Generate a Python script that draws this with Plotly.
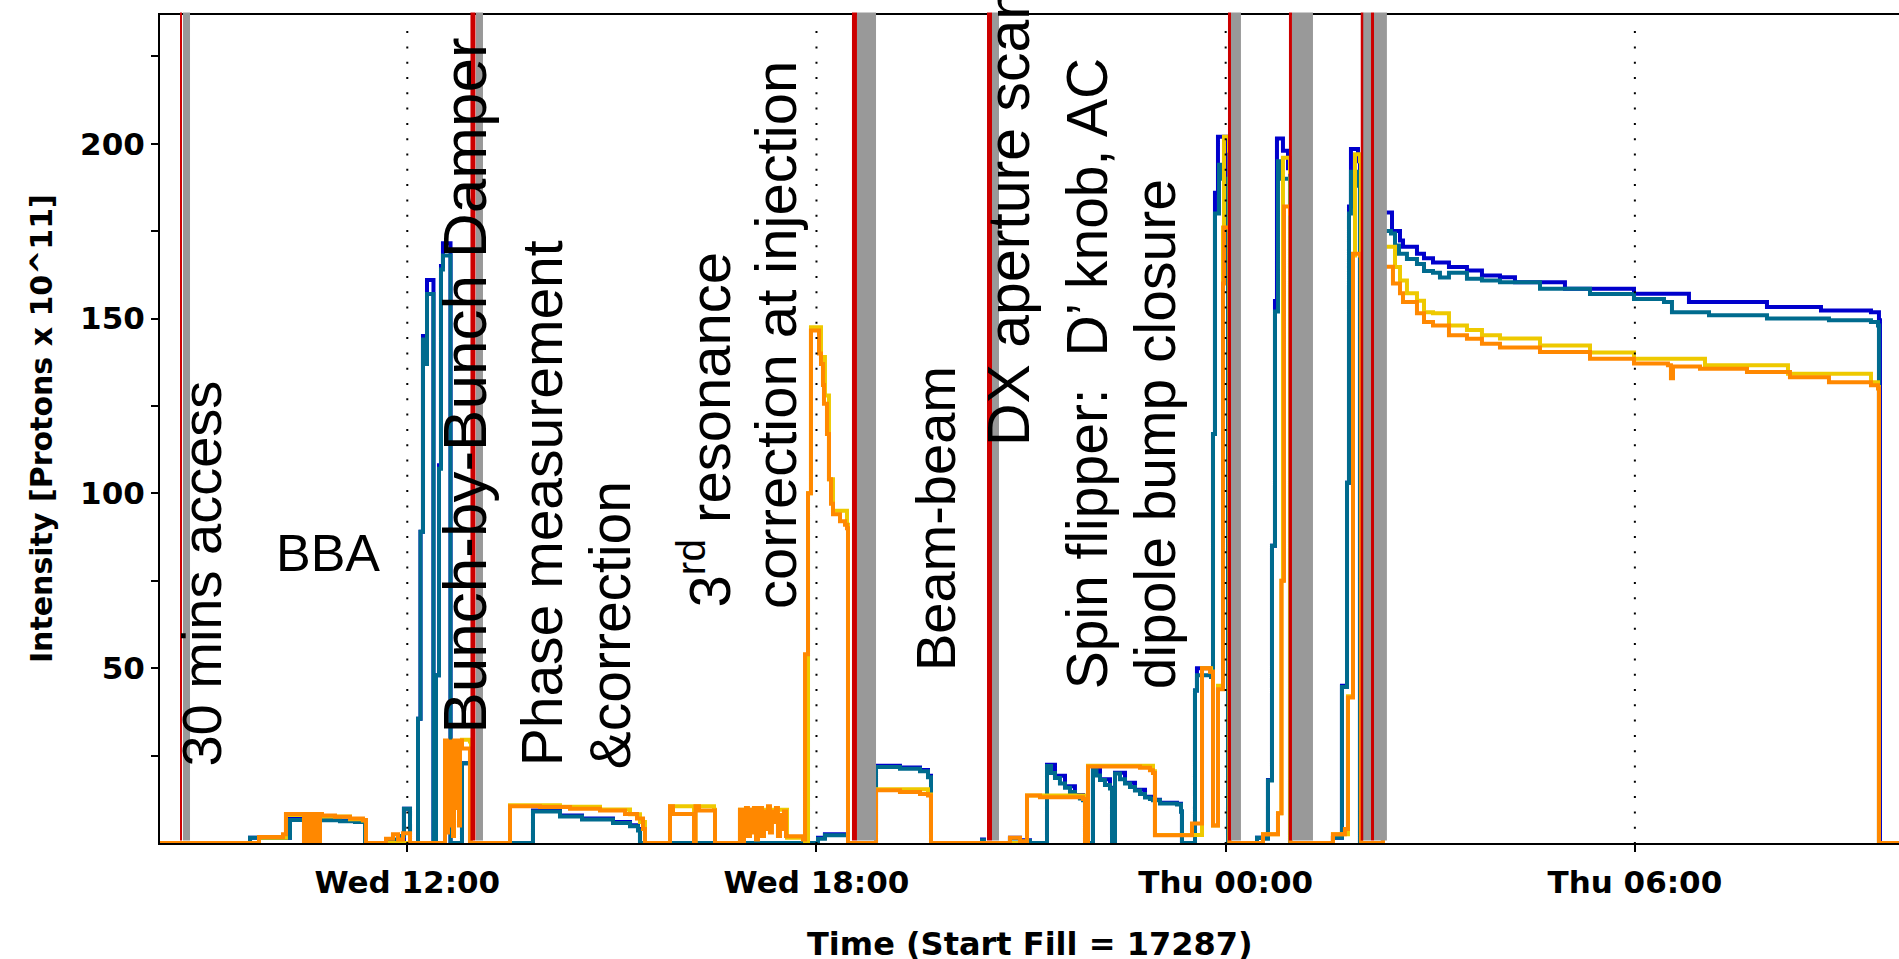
import plotly.graph_objects as go

# ---------------- data (time = hours since Wed 00:00) ----------------
tick_hours = [12, 18, 24, 30]
tick_labels = ["Wed 12:00", "Wed 18:00", "Thu 00:00", "Thu 06:00"]
y_tick_vals = [25, 50, 75, 100, 125, 150, 175, 200, 225]
y_tick_text = ["", "50", "", "100", "", "150", "", "200", ""]
x_range = [8.374, 33.873]
y_range = [0, 236.8]

blue_t = [8.374, 9.694, 10.280, 10.749, 11.013, 11.233, 11.380, 11.951, 12.040, 12.157, 12.194, 12.230,
          12.289, 12.377, 12.384, 12.421, 12.465, 12.494, 12.523, 12.626, 12.634, 12.802, 12.919, 12.934,
          13.843, 14.239, 14.562, 15.016, 15.266, 15.383, 15.412, 18.022, 18.124, 18.418, 18.462, 18.873,
          19.224, 19.518, 19.635, 19.679, 20.427, 20.456, 20.837, 20.984, 21.131, 21.380, 21.497, 21.644,
          21.790, 21.908, 21.981, 22.054, 22.157, 22.304, 22.333, 22.377, 22.524, 22.670, 22.817, 22.934,
          23.037, 23.286, 23.345, 23.359, 23.550, 23.579, 23.785, 23.814, 23.843, 23.887, 24.005, 24.034,
          24.459, 24.576, 24.620, 24.679, 24.723, 24.752, 24.840, 24.914, 24.943, 25.573, 25.705, 25.779,
          25.808, 25.837, 25.940, 25.969, 26.306, 26.439, 26.556, 26.600, 26.805, 26.908, 27.040, 27.274,
          27.538, 27.758, 28.022, 28.242, 28.975, 29.987, 30.793, 31.937, 32.729, 33.462, 33.579, 33.594,
          33.873]
blue_v = [0, 1.5, 7.0, 6.8, 6.4, 6.2, 0, 9.8, 0, 35.5, 89, 145,
          161, 161, 0, 48, 108, 165, 171.5, 171.5, 0, 22.8, 22.8, 0,
          9.3, 7.9, 7.0, 6.0, 5.1, 4.0, 0, 1.5, 2.5, 2.5, 0, 22.1,
          21.6, 20.9, 19.2, 0, 1.0, 0, 1.5, 0.8, 0, 22.4, 19.2, 16.2,
          13.7, 12.4, 0, 21.0, 18.2, 15.8, 0, 20.1, 17.2, 15.2, 13.2, 12.4,
          11.5, 11.2, 9.0, 0, 43.6, 50, 48, 117, 186, 202, 200, 0,
          1.5, 1.5, 18, 85, 155, 201.5, 198, 193, 0, 1.5, 45, 103,
          182, 198.5, 195, 0, 180.3, 175, 172.3, 170.5, 168.5, 167.2, 166, 164.7,
          163.7, 162.3, 161.8, 160.4, 158.5, 157.1, 154.7, 153.3, 152.3, 151.8, 149.5, 0,
          0]

teal_t = [8.374, 9.694, 10.280, 10.749, 11.013, 11.233, 11.380, 11.702, 11.893, 11.951, 12.040, 12.157,
          12.194, 12.230, 12.259, 12.289, 12.377, 12.384, 12.421, 12.465, 12.494, 12.523, 12.626, 12.634,
          12.802, 12.919, 12.934, 13.843, 14.239, 14.562, 15.016, 15.266, 15.383, 15.412, 18.022, 18.124,
          18.418, 18.462, 18.873, 19.224, 19.518, 19.635, 19.679, 20.427, 20.456, 20.837, 20.984, 21.131,
          21.380, 21.439, 21.497, 21.570, 21.644, 21.717, 21.790, 21.863, 21.908, 21.952, 22.054, 22.106,
          22.157, 22.230, 22.304, 22.333, 22.377, 22.450, 22.524, 22.597, 22.670, 22.744, 22.817, 22.890,
          22.934, 23.037, 23.286, 23.345, 23.359, 23.550, 23.579, 23.785, 23.814, 23.843, 23.902, 23.946,
          24.019, 24.034, 24.459, 24.576, 24.620, 24.679, 24.723, 24.767, 24.826, 24.914, 24.943, 25.573,
          25.705, 25.779, 25.808, 25.837, 25.940, 25.969, 26.306, 26.424, 26.483, 26.541, 26.658, 26.805,
          26.908, 27.040, 27.142, 27.274, 27.538, 27.758, 28.022, 28.609, 29.342, 29.987, 30.427, 30.544,
          31.087, 31.937, 32.846, 33.462, 33.565, 33.579, 33.873]
teal_v = [0, 1.5, 6.6, 6.5, 6.2, 6.0, 0, 1.0, 2.0, 9.8, 0, 35.5,
          89, 144, 137, 157, 157, 0, 48, 107, 164, 168, 168, 0,
          22.8, 22.8, 0, 9.0, 7.6, 6.7, 5.7, 4.8, 3.6, 0, 1.2, 2.2,
          2.2, 0, 21.7, 21.2, 20.5, 18.8, 0, 0.8, 0, 1.3, 0.6, 0,
          22.0, 20.0, 18.6, 17.0, 15.8, 14.6, 13.5, 12.7, 12.2, 0, 20.8, 19.3,
          18.0, 16.6, 15.6, 0, 19.9, 18.2, 17.0, 16.0, 15.0, 14.0, 13.0, 12.6,
          12.2, 11.3, 11.0, 9.0, 0, 43.6, 48, 47.5, 117, 180, 194, 190,
          189, 0, 1.5, 1.2, 17.9, 85, 152, 195, 190, 190, 0, 1.5,
          44.6, 103, 180, 192, 188, 0, 175, 174.3, 170.9, 168.5, 167, 165.6,
          163.6, 163.1, 161.7, 163.1, 161.4, 160.9, 160.4, 158.5, 157, 155.6, 154.7, 151.8,
          150.9, 150, 149.5, 149, 148, 0, 0]

yellow_t = [8.374, 9.826, 10.221, 10.749, 11.160, 11.350, 11.394, 12.553, 12.802, 12.919, 12.934, 13.506,
            14.239, 14.826, 15.266, 15.412, 15.485, 15.852, 16.204, 16.226, 16.497, 16.512, 16.878, 17.568,
            17.832, 17.876, 17.919, 18.022, 18.066, 18.124, 18.183, 18.242, 18.447, 18.462, 18.873, 19.635,
            19.679, 21.087, 21.937, 21.981, 22.934, 22.963, 23.653, 23.785, 23.814, 23.887, 23.961, 23.975,
            24.049, 24.056, 24.547, 24.767, 24.818, 24.840, 24.943, 24.950, 25.573, 25.793, 25.867, 25.896,
            25.969, 25.984, 26.306, 26.483, 26.556, 26.658, 26.805, 26.908, 27.040, 27.274, 27.538, 27.758,
            28.022, 28.609, 29.342, 29.987, 31.028, 32.245, 33.462, 33.565, 33.579, 33.873]
yellow_v = [0, 1.5, 8.0, 7.6, 6.8, 6.4, 0, 28, 29.5, 29, 0, 10.8,
            10.4, 9.6, 8.2, 6, 0, 10.5, 0, 10.5, 9.5, 0, 9.5, 1.5,
            0, 100, 147.5, 147.5, 139, 128, 104, 95, 91, 0, 15.4, 13.9,
            0, 13.6, 0, 22.1, 20.5, 2.3, 50, 49, 5, 45, 176, 202,
            198, 0, 2.5, 8.5, 75, 196, 192, 0, 2.5, 42, 168, 197,
            195, 0, 170.5, 164.7, 160.9, 157.2, 155.1, 151.8, 151.5, 148, 146.7, 145.2,
            144.3, 142.3, 140.3, 138.5, 136.6, 134.2, 131.8, 130.4, 0, 0]

orange_t = [8.374, 9.826, 10.178, 10.221, 10.485, 10.515, 10.559, 10.588, 10.632, 10.661, 10.705, 10.720,
            10.749, 10.940, 11.160, 11.350, 11.394, 11.688, 11.790, 11.864, 11.937, 12.040, 12.553, 12.582,
            12.597, 12.626, 12.641, 12.670, 12.685, 12.714, 12.729, 12.758, 12.773, 12.802, 12.890, 12.919,
            13.506, 13.946, 14.386, 14.826, 15.192, 15.368, 15.456, 15.485, 15.852, 15.896, 16.204, 16.226,
            16.277, 16.497, 16.512, 16.878, 16.907, 16.937, 16.966, 16.995, 17.025, 17.054, 17.083, 17.113,
            17.142, 17.171, 17.201, 17.230, 17.259, 17.289, 17.318, 17.347, 17.377, 17.406, 17.435, 17.465,
            17.494, 17.523, 17.553, 17.568, 17.802, 17.832, 17.876, 17.919, 18.007, 18.037, 18.066, 18.095,
            18.110, 18.154, 18.183, 18.213, 18.242, 18.345, 18.418, 18.447, 18.462, 18.873, 19.224, 19.518,
            19.635, 19.679, 20.837, 20.984, 21.087, 21.277, 21.908, 21.937, 21.981, 22.450, 22.744, 22.890,
            22.934, 22.963, 23.506, 23.653, 23.770, 23.814, 23.887, 23.961, 23.975, 24.049, 24.056, 24.547,
            24.767, 24.818, 24.855, 24.943, 24.950, 25.573, 25.749, 25.793, 25.867, 25.969, 25.984, 26.306,
            26.453, 26.556, 26.600, 26.805, 26.908, 27.040, 27.274, 27.538, 27.758, 28.022, 28.609, 29.342,
            29.987, 30.485, 30.529, 30.559, 30.955, 31.644, 32.274, 32.846, 33.462, 33.565, 33.579, 33.873]
orange_v = [0, 1.7, 2.5, 8.3, 0, 8.3, 0, 8.3, 0, 8.3, 0, 8.3,
            7.9, 7.5, 7.0, 6.6, 0, 1.2, 2.5, 1.0, 2.8, 0, 29.3, 3,
            29, 5, 29, 2, 29.3, 10, 29.3, 5, 29.3, 27, 27, 0,
            10.5, 10.3, 9.8, 9.3, 8.3, 7.0, 4.0, 0, 10.5, 8.3, 0, 10.5,
            9.3, 9.3, 0, 9.5, 0, 6, 10, 2, 9.5, 3, 10, 1,
            8, 10, 2, 9, 4, 10.5, 3, 9, 6, 10, 2, 8,
            4, 9, 2, 1.9, 1.0, 54, 100, 146.6, 146.6, 140, 137, 131,
            125.6, 117, 104, 97, 94, 92, 91, 90, 0, 15.1, 14.6, 14.0,
            13.6, 0, 1.5, 0.5, 13.6, 13.1, 12.6, 0, 21.9, 21.9, 21.5, 20.8,
            20, 2.2, 5.6, 50, 49, 5, 44, 160, 176, 176, 0, 2.5,
            8.5, 75, 182, 180, 0, 2.5, 4, 41.6, 168.5, 168, 0, 164.8,
            160, 157.2, 154.7, 151.5, 149, 148, 145.2, 144.2, 142.8, 141.7, 140.4, 138.5,
            137.1, 136.6, 132.9, 136.3, 135.6, 134.7, 133.2, 131.8, 130.9, 130, 0, 0]

# events: red marker line time, grey band start / end
red_times = [8.682, 12.963, 18.557, 20.537, 24.056, 24.950, 25.999, 26.153]
grey_start = [8.711, 13.007, 18.594, 20.573, 24.078, 24.972, 26.013, 26.175]
grey_end = [8.814, 13.110, 18.873, 20.676, 24.224, 25.280, 26.131, 26.364]
red_widths = [2, 5, 5, 5, 3, 3, 2.5, 3]

# ---------------- layout geometry ----------------
W, H = 1899, 959
L, T, B = 160, 15, 843
PW, PH = W - L, B - T


def pxx(x):
    return (x - L) / PW


def pyy(y):
    return (B - y) / PH


TICKFONT = dict(family="DejaVu Sans", size=31, color="black", weight="bold")
SANS = "Liberation Sans, Arial, sans-serif"

fig = go.Figure()
series = [
    (blue_t, blue_v, "#0000CC", "Blue DCCT"),
    (teal_t, teal_v, "#006B8E", "Blue WCM"),
    (yellow_t, yellow_v, "#EEC900", "Yellow DCCT"),
    (orange_t, orange_v, "#FF8800", "Yellow WCM"),
]
for t, v, c, name in series:
    fig.add_trace(go.Scatter(x=t, y=v, mode="lines", name=name,
                             line=dict(color=c, width=4, shape="hv"), hoverinfo="skip"))

shapes = []
for gs, ge in zip(grey_start, grey_end):
    shapes.append(dict(type="rect", xref="x", yref="paper", x0=gs, x1=ge, y0=0.003, y1=1.003,
                       fillcolor="#999999", line=dict(width=0), layer="above"))
for rt, rw in zip(red_times, red_widths):
    shapes.append(dict(type="line", xref="x", yref="paper", x0=rt, x1=rt, y0=0.003, y1=1.003,
                       line=dict(color="#CC0000", width=rw), layer="above"))
for th in tick_hours:
    shapes.append(dict(type="line", xref="x", yref="y", x0=th, x1=th, y0=232.2, y1=0,
                       line=dict(color="black", width=2, dash="2px,13.3px"), layer="above"))

annotations = []
rot_texts = [
    ("30 mins access", 200.6, 768, 56),
    ("Bunch-by-Bunch Damper", 463.5, 735, 62),
    ("Phase measurement", 542.3, 767, 57),
    ("&amp;correction", 610.3, 770, 57),
    ("3<sup>rd</sup> resonance", 704.9, 608, 58),
    ("correction at injection", 774.9, 610, 58),
    ("Beam-beam", 935.6, 672, 56),
    ("DX aperture scan", 1008.6, 447, 59),
    ("Spin flipper: \u00a0D\u2019 knob, AC", 1087.3, 690, 57),
    ("dipole bump closure", 1155.3, 690, 57),
]
for txt, cx, yb, fs in rot_texts:
    annotations.append(dict(text=txt, x=pxx(cx), y=pyy(yb), xref="paper", yref="paper",
                            xanchor="center", yanchor="bottom", textangle=-90, showarrow=False,
                            borderpad=0, font=dict(family=SANS, size=fs, color="black")))
annotations.append(dict(text="BBA", x=pxx(328), y=pyy(553), xref="paper", yref="paper",
                        xanchor="center", yanchor="middle", showarrow=False, borderpad=0,
                        font=dict(family=SANS, size=52, color="black")))
annotations.append(dict(text="Time (Start Fill = 17287)", x=pxx(1030), y=pyy(944), xref="paper",
                        yref="paper", xanchor="center", yanchor="middle", showarrow=False, borderpad=0,
                        font=dict(family="DejaVu Sans", size=32, color="black", weight="bold")))
annotations.append(dict(text="Intensity [Protons x 10^11]", x=pxx(41.6), y=pyy(428.5), xref="paper",
                        yref="paper", xanchor="center", yanchor="middle", textangle=-90, showarrow=False,
                        borderpad=0,
                        font=dict(family="DejaVu Sans", size=30, color="black", weight="bold")))

fig.update_layout(
    width=W, height=H,
    margin=dict(l=L, r=0, t=T, b=H - B, pad=0),
    paper_bgcolor="white", plot_bgcolor="white",
    showlegend=False,
    shapes=shapes, annotations=annotations,
    xaxis=dict(range=x_range, tickvals=tick_hours, ticktext=tick_labels, ticks="outside", ticklen=7,
               tickwidth=2, tickcolor="black", showline=True, linecolor="black", linewidth=2,
               mirror=True, showgrid=False, zeroline=False, tickfont=TICKFONT, ticklabelstandoff=4),
    yaxis=dict(range=y_range, tickvals=y_tick_vals, ticktext=y_tick_text, ticks="outside", ticklen=7,
               tickwidth=2, tickcolor="black", showline=True, linecolor="black", linewidth=2,
               showgrid=False, zeroline=False, tickfont=TICKFONT),
    xaxis2=dict(overlaying="x", anchor="y", range=x_range, tickvals=tick_hours, ticks="inside",
                ticklen=5, tickwidth=2, tickcolor="black", showticklabels=False, showgrid=False,
                zeroline=False, showline=False),
    yaxis2=dict(overlaying="y", anchor="x", side="left", range=y_range, tickvals=y_tick_vals,
                ticks="inside", ticklen=6, tickwidth=2, tickcolor="black", showticklabels=False,
                showgrid=False, zeroline=False, showline=False),
)

fig.write_html("out.html", config={"displayModeBar": False},
               post_script="document.body.style.margin='0';document.body.style.overflow='hidden';")
